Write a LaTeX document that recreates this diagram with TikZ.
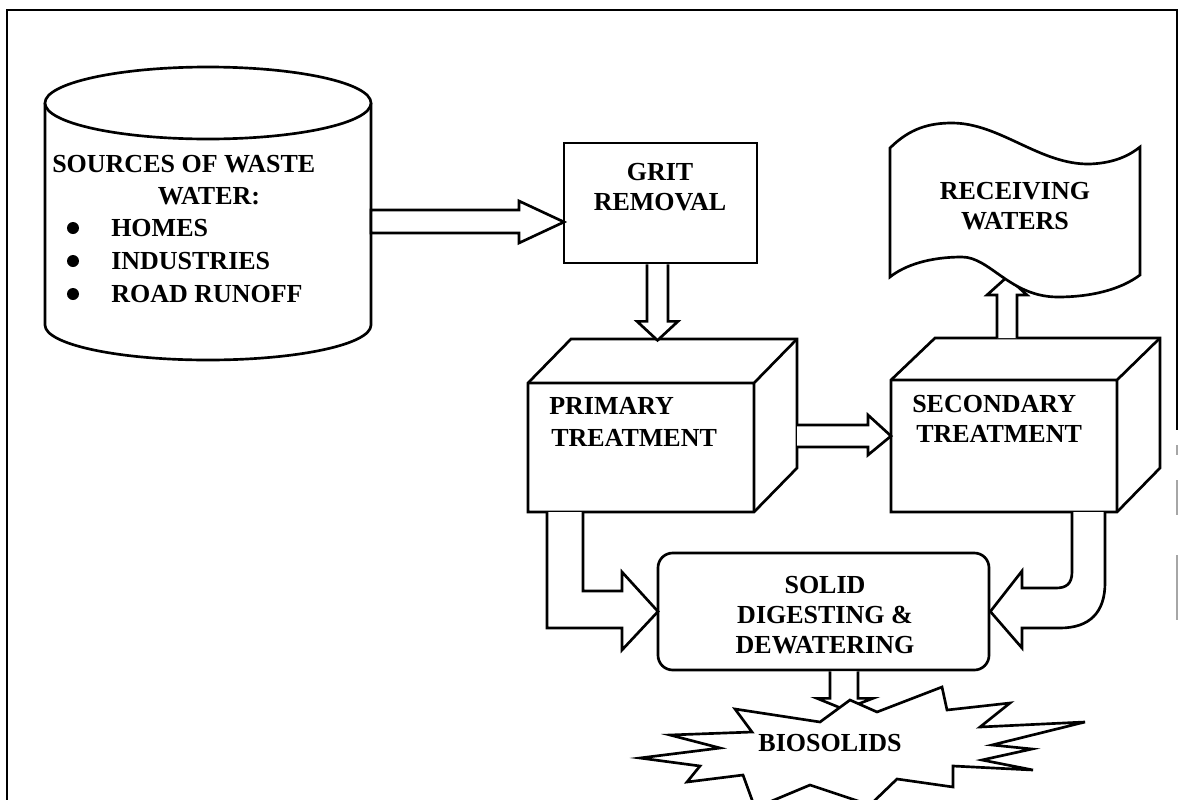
\documentclass[tikz,border=0pt]{standalone}
\usepackage{fontspec}
\setmainfont{Liberation Serif}
\usetikzlibrary{calc}
\begin{document}
\begin{tikzpicture}[x=0.75pt,y=-0.75pt,
  ln/.style={line width=2pt, line join=miter, draw=black},
  shp/.style={ln, fill=white},
  txt/.style={font=\bfseries\fontsize{19.5}{22.5}\selectfont, inner sep=0pt, align=center},
  ghost/.style={inner sep=0pt, outer sep=0pt, draw=none},
  bullet/.style={circle, fill=black, inner sep=0pt, minimum size=9pt}
]
\useasboundingbox (0,0) rectangle (1179,800);
\clip (0,0) rectangle (1179,800);
\fill[white] (0,0) rectangle (1179,800);
% frame
\draw[line width=2pt] (7,800) -- (7,10) -- (1177,10) -- (1177,430);
\draw[line width=1.2pt, black!35] (1177,445) -- (1177,455) (1177,480) -- (1177,515) (1177,555) -- (1177,620);

% sources cylinder
\draw[shp] (45,103) -- (45,325) arc[start angle=180, end angle=0, x radius=163, y radius=35] -- (371,103);
\draw[shp] (208,103) ellipse [x radius=163, y radius=36];
\node[ghost, minimum width=244.5pt, minimum height=166.5pt] (src) at (208,214) {};
\node[txt, anchor=base west] (s1) at (52,172) {SOURCES OF WASTE};
\node[txt, anchor=base] (s2) at (209,204) {WATER:};
\node[bullet] (b1) at (73,228) {};
\node[bullet] (b2) at (73,261) {};
\node[bullet] (b3) at (73,294) {};
\node[txt, anchor=base west] (s3) at (111,236) {HOMES};
\node[txt, anchor=base west] (s4) at (111,269) {INDUSTRIES};
\node[txt, anchor=base west] (s5) at (111,302) {ROAD RUNOFF};

% grit removal
\node[shp, minimum width=144.75pt, minimum height=90pt] (grit) at (660.5,203) {};
\node[txt] (gritt) at (660,187) {GRIT\\REMOVAL};

% primary treatment
\draw[shp] (528,383) -- (571,339) -- (797,339) -- (797,468) -- (754,512) -- (528,512) -- cycle;
\draw[ln] (528,383) -- (754,383) -- (797,339) (754,383) -- (754,512);
\node[ghost, minimum width=169.5pt, minimum height=96.75pt] (prim) at (641,447.5) {};
\node[txt, anchor=base west] (p1) at (549,414) {PRIMARY};
\node[txt, anchor=base west] (p2) at (551,446) {TREATMENT};

% secondary treatment
\draw[shp] (891,380) -- (935,338) -- (1160,338) -- (1160,468) -- (1117,512) -- (891,512) -- cycle;
\draw[ln] (891,380) -- (1117,380) -- (1160,338) (1117,380) -- (1117,512);
\node[ghost, minimum width=169.5pt, minimum height=99pt] (sec) at (1004,446) {};
\node[txt, anchor=base west] (q1) at (912,412) {SECONDARY};
\node[txt, anchor=base west] (q2) at (916,442) {TREATMENT};

% up arrow to receiving waters (drawn under the flag)
\draw[shp] (sec.north) ++(-7,-42) -- ++(0,-43) -- ++(-10,0) -- ++(20,-18) -- ++(20,18) -- ++(-10,0) -- ++(0,43);

% receiving waters
\draw[shp] (890,148) .. controls (910,128) and (930,123) .. (952,123)
  .. controls (1000,123) and (1040,165) .. (1090,164)
  .. controls (1115,163) and (1130,155) .. (1140,147) -- (1140,275)
  .. controls (1120,290) and (1090,297) .. (1058,297)
  .. controls (1010,297) and (990,257) .. (962,257)
  .. controls (930,257) and (905,265) .. (890,277) -- cycle;
\node[txt] (recv) at (1015,206) {RECEIVING\\WATERS};

% solid digesting
\node[shp, rounded corners=11pt, minimum width=248.25pt, minimum height=87.75pt] (solid) at (823.5,611.5) {};
\node[txt] (solidt) at (825,615) {SOLID\\DIGESTING \&\\DEWATERING};

% block arrows
\draw[shp] (src.east) ++(0,-4) -- ++(148,0) -- ++(0,-9) -- ++(45,21) -- ++(-45,21) -- ++(0,-10) -- ++(-148,0) -- cycle;
\draw[shp] (grit.south) ++(-13.5,0) -- ++(0,57) -- ++(-10,0) -- ++(20.5,19) -- ++(20.5,-19) -- ++(-10,0) -- ++(0,-57);
\draw[shp] (prim.east) ++(43,-22.5) -- ++(71,0) -- ++(0,-10) -- ++(23,21) -- ++(-23,19) -- ++(0,-8) -- ++(-71,0);
\draw[shp] (prim.south) ++(-94,0) -- ++(0,116) -- ++(75,0) -- ++(0,22) -- ++(36,-38.5) -- ++(-36,-39.5) -- ++(0,19) -- ++(-39,0) -- ++(0,-79);
\draw[shp] ($(sec.south)+(101,0)$) -- (1105,583) .. controls (1105,612) and (1090,628) .. (1060,628)
  -- (1022,628) -- (1022,648) -- (solid.east) -- (1022,571) -- (1022,588) -- (1056,588)
  .. controls (1066,588) and (1072,584) .. (1072,572) -- ($(sec.south)+(68,0)$);
\draw[shp] (solid.south) ++(6.5,0) -- ++(0,27) -- ++(-13,0) -- ++(27,11) -- ++(29,-11) -- ++(-15,0) -- ++(0,-27);

% biosolids starburst
\draw[shp] (735,709) -- (820,722) -- (850,700) -- (877,712) -- (942,687) -- (947,710) -- (1010,703)
  -- (980,727) -- (1085,722) -- (992,745) -- (1032,749) -- (982,760) -- (1033,770) -- (953,766)
  -- (953,787) -- (897,779) -- (870,805) -- (810,785) -- (755,808) -- (743,775) -- (687,782)
  -- (700,766) -- (640,758) -- (720,748) -- (670,735) -- (752,732) -- cycle;
\node[txt] (bio) at (830,743) {BIOSOLIDS};
\end{tikzpicture}
\end{document}
